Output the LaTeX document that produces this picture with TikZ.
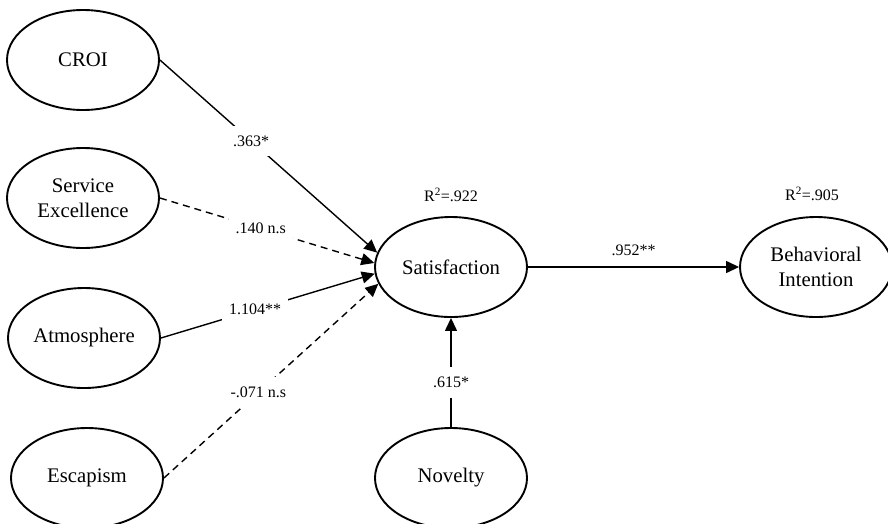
\documentclass[tikz,border=0pt]{standalone}
\usepackage{fontspec}
\setmainfont{Liberation Serif}
\usetikzlibrary{shapes.geometric,arrows.meta}
\begin{document}
\begin{tikzpicture}[x=1pt,y=-1pt,
  construct/.style={draw, ellipse, line width=1.9pt, minimum width=152pt, minimum height=100pt,
    inner sep=0pt, align=center, font=\fontsize{20.75}{24.5}\selectfont},
  link/.style={line width=1.4pt, -{Triangle[length=13pt,width=12pt]}},
  dlink/.style={link, dash pattern=on 7pt off 5pt},
  coef/.style={fill=white, inner xsep=7pt, inner ysep=10pt, font=\fontsize{16}{19}\selectfont},
  rlab/.style={inner sep=0pt, font=\fontsize{16}{19}\selectfont}]
\useasboundingbox (0,0) rectangle (888,523);
\fill[white] (0,0) rectangle (888,523);
\node[construct] (croi) at (83,60) {CROI};
\node[construct] (serv) at (83,198) {Service\\Excellence};
\node[construct] (atmo) at (84,338) {Atmosphere};
\node[construct] (esca) at (87,478) {Escapism};
\node[construct] (sat) at (451,267) {Satisfaction};
\node[construct] (beh) at (816,267) {Behavioral\\Intention};
\node[construct] (nov) at (451,478) {Novelty};
\node[rlab] (r1) at (451,195) {R\textsuperscript{2}=.922};
\node[rlab] (r2) at (812,194) {R\textsuperscript{2}=.905};
\draw[link] (croi.east) -- node[coef,pos=0.42] (c1) {.363*} (sat.169);
\draw[dlink] (serv.east) -- node[coef,pos=0.47] (c2) {.140 n.s} (sat.177);
\draw[link] (atmo.east) -- node[coef,pos=0.44] (c3) {1.104**} (sat.185);
\draw[dlink] (esca.east) -- node[coef,pos=0.44] (c4) {-.071 n.s} (sat.193);
\draw[link] (sat.east) -- node[rlab,midway,above=11pt] (c5) {.952**} (beh.west);
\draw[link] (nov.north) -- node[coef,pos=0.41] (c6) {.615*} (sat.south);
\end{tikzpicture}
\end{document}
